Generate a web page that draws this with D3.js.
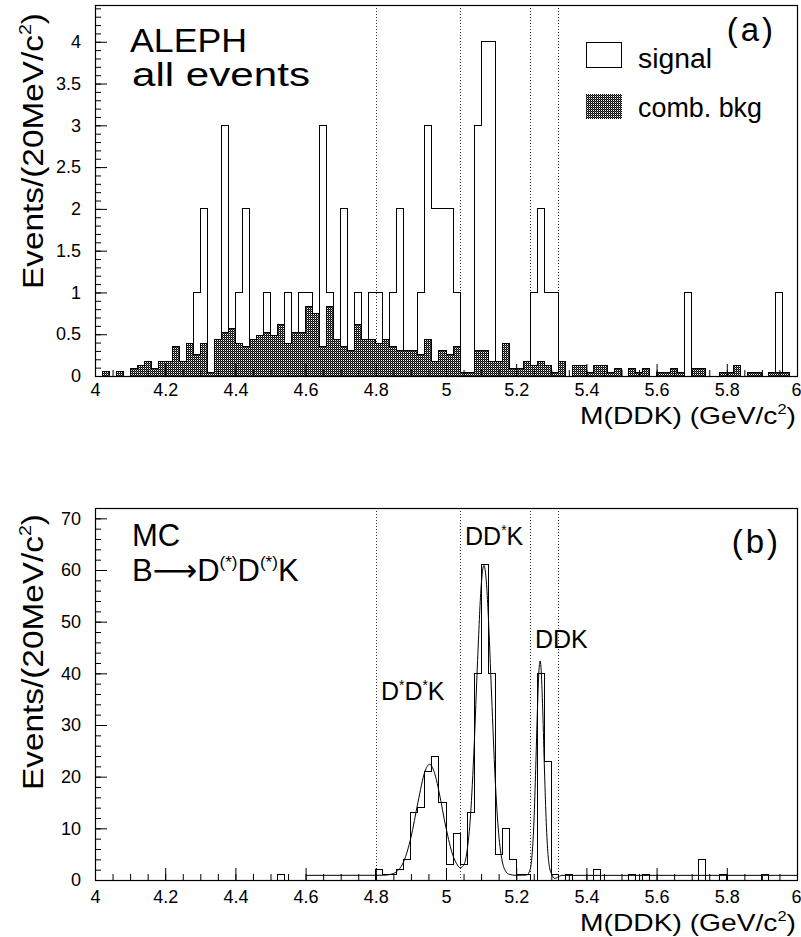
<!DOCTYPE html>
<html>
<head>
<meta charset="utf-8">
<script src="https://cdn.jsdelivr.net/npm/d3@7"></script>
<style>
  body { margin: 0; background: #fff; }
  svg { display: block; font-family: "Liberation Sans", Arial, sans-serif; }
</style>
</head>
<body>
<svg id="chart" width="801" height="937"></svg>
<script>
// 100 bins of 20 MeV between 4.0 and 6.0 GeV/c^2
const binLow = 4.0, binWidth = 0.02;

// (a) ALEPH data, signal histogram (events per bin)
const signalA = [
  0,0,0,0,0, 0,0,0,0,0, 0,0,0,0,1, 2,0,0,3,0,
  1,2,0,0,1, 0,0,1,0,1, 1,0,3,1,0, 2,0,1,0,1,
  1,0,1,2,0, 0,1,3,2,2, 2,1,0,0,3, 4,4,0,0,0,
  0,0,1,2,1, 1,0,0,0,0, 0,0,0,0,0, 0,0,0,0,0,
  0,0,0,0,1, 0,0,0,0,0, 0,0,0,0,0, 0,0,1,0,0
];

// (a) combinatorial background estimate
const bkgA = [
  0,0.05,0,0.05,0, 0.09,0.13,0.17,0.09,0.17, 0.17,0.35,0.17,0.39,0.26, 0.39,0.04,0.44,0.52,0.57,
  0.39,0.35,0.44,0.48,0.52, 0.48,0.62,0.39,0.52,0.52, 0.83,0.75,0.35,0.83,0.44, 0.35,0.30,0.62,0.44,0.44,
  0.39,0.44,0.35,0.30,0.30, 0.30,0.26,0.44,0.17,0.30, 0.26,0.35,0.04,0.04,0.30, 0.30,0.17,0.17,0.39,0.09,
  0.09,0.17,0.13,0.17,0.13, 0.04,0.17,0,0.13,0.13, 0.04,0.13,0.13,0.04,0.09, 0,0.09,0.04,0.09,0,
  0.04,0.04,0.09,0.04,0, 0.09,0.09,0,0,0.04, 0.04,0.13,0,0.04,0.04, 0,0.04,0.04,0.04,0
];

// (b) Monte Carlo B -> D(*)D(*)K
const mcB = [
  0,0,0,0,0, 0,0,0,0,0, 0,0,0,0,0, 0,0,0,0,0,
  0,0,0,0,0, 0,1,0,0,0, 0,0,0,0,0, 0,0,0,0,0,
  2,1,1,2,4, 13,14,21,24,15, 3,9,3,13,40, 61,40,5,10,4,
  1,1,0,40,23, 1,0,1,0,0, 0,2,0,0,0, 0,1,0,1,0,
  0,0,0,0,0, 0,4,0,0,1, 0,0,0,0,0, 1,0,0,0,0
];

// (b) fitted curve
const fitX = [4.60, 4.82, 4.84, 4.86, 4.88, 4.90, 4.92, 4.94, 4.953, 4.97, 4.98, 5.00, 5.02, 5.03, 5.04,
  5.05, 5.06, 5.07, 5.08, 5.09, 5.10, 5.108, 5.115, 5.12, 5.13, 5.14, 5.15, 5.16, 5.17, 5.18, 5.20, 5.23,
  5.24, 5.245, 5.25, 5.255, 5.26, 5.265, 5.268, 5.27, 5.275, 5.28, 5.285, 5.29, 5.295, 5.30, 5.31, 5.32, 5.33, 6.00];
const fitY = [0.9, 0.92, 1.06, 1.66, 3.65, 8.2, 15.0, 21.0, 22.4, 20.1, 17.1, 10.1, 4.7, 3.2, 2.4,
  2.8, 5.6, 12.6, 25.6, 42.5, 56.7, 60.9, 57.7, 51.9, 35.6, 19.7, 9.0, 3.7, 1.7, 1.1, 0.9, 0.96,
  2.1, 4.7, 10.4, 20.2, 31.9, 40.7, 42.4, 41.7, 34.2, 22.5, 12.1, 5.5, 2.4, 1.3, 0.3, 0.6, 0.9, 0.9];

const xTicks = [4, 4.2, 4.4, 4.6, 4.8, 5, 5.2, 5.4, 5.6, 5.8, 6];
const yTicksA = [0, 0.5, 1, 1.5, 2, 2.5, 3, 3.5, 4];
const yTicksB = [0, 10, 20, 30, 40, 50, 60, 70];
const cutLines = [4.8, 5.04, 5.24, 5.32];

const svg = d3.select('#chart');

// crosshatch used for the background histogram
const pat = svg.append('defs').append('pattern')
  .attr('id', 'xhatch')
  .attr('width', 2).attr('height', 2)
  .attr('patternUnits', 'userSpaceOnUse');
pat.append('rect').attr('width', 2).attr('height', 2).attr('fill', '#fff');
pat.append('rect').attr('x', 0).attr('y', 0).attr('width', 1).attr('height', 1).attr('fill', '#000');
pat.append('rect').attr('x', 1).attr('y', 1).attr('width', 1).attr('height', 1).attr('fill', '#000');
pat.append('rect').attr('x', 0).attr('y', 1).attr('width', 1).attr('height', 1).attr('fill', '#555');

const x = d3.scaleLinear().domain([4, 6]).range([95, 797]);
const yA = d3.scaleLinear().domain([0, 4.44]).range([376, 5]);
const yB = d3.scaleLinear().domain([0, 72]).range([880, 508]);

// histogram outline as a step path through the bin edges
function stepPath(vals, y){
  const p = d3.path();
  p.moveTo(x(binLow), y(0));
  vals.forEach(function(v, i){
    p.lineTo(x(binLow + i * binWidth), y(v));
    p.lineTo(x(binLow + (i + 1) * binWidth), y(v));
  });
  p.lineTo(x(binLow + vals.length * binWidth), y(0));
  return p.toString();
}

function cuts(y){
  svg.append('g').selectAll('line')
    .data(cutLines)
    .enter().append('line')
    .attr('x1', d => Math.round(x(d)) + 0.5)
    .attr('x2', d => Math.round(x(d)) + 0.5)
    .attr('y1', y.range()[1])
    .attr('y2', y.range()[0])
    .attr('stroke', '#333')
    .attr('stroke-width', 1)
    .attr('stroke-dasharray', '1,2');
}

function axes(y, yMajor, yMinor, xPad){
  const y0 = y.range()[0];
  const clean = g => {
    g.select('.domain').remove();
    g.selectAll('.tick line').attr('stroke', '#000');
    g.attr('font-size', 18).attr('font-family', '"Liberation Sans", Arial, sans-serif');
  };
  svg.append('g').attr('transform', 'translate(0,' + y0 + ')')
    .call(d3.axisBottom(x).tickValues(d3.range(4, 6.001, 0.05)).tickSize(-6).tickFormat(''))
    .call(clean);
  svg.append('g').attr('transform', 'translate(0,' + y0 + ')')
    .call(d3.axisBottom(x).tickValues(xTicks).tickSize(-12).tickPadding(xPad).tickFormat(d3.format('~g')))
    .call(clean)
    // last label sits on the right edge of the page
    .call(g => g.selectAll('.tick text').filter(d => d === 6).attr('text-anchor', 'end').attr('x', 4));
  svg.append('g').attr('transform', 'translate(' + x.range()[0] + ',0)')
    .call(d3.axisLeft(y).tickValues(yMinor).tickSize(-6).tickFormat(''))
    .call(clean);
  svg.append('g').attr('transform', 'translate(' + x.range()[0] + ',0)')
    .call(d3.axisLeft(y).tickValues(yMajor).tickSize(-12).tickPadding(14).tickFormat(d3.format('~g')))
    .call(clean);
  svg.append('rect')
    .attr('x', x.range()[0] + 0.5).attr('y', y.range()[1] + 0.5)
    .attr('width', x.range()[1] - x.range()[0]).attr('height', y0 - y.range()[1])
    .attr('fill', 'none').attr('stroke', '#000').attr('stroke-width', 1.2);
}

function yTitle(cy){
  const t = svg.append('text')
    .attr('transform', 'translate(43,' + cy + ') rotate(-90)')
    .attr('text-anchor', 'middle')
    .attr('font-size', 29)
    .attr('textLength', 276)
    .attr('lengthAdjust', 'spacingAndGlyphs');
  t.append('tspan').text('Events/(20MeV/c');
  t.append('tspan').attr('font-size', 17).attr('dy', -12).text('2');
  t.append('tspan').attr('dy', 12).text(')');
}

function xTitle(by){
  const t = svg.append('text')
    .attr('x', 796).attr('y', by)
    .attr('text-anchor', 'end')
    .attr('font-size', 24)
    .attr('textLength', 216)
    .attr('lengthAdjust', 'spacingAndGlyphs');
  t.append('tspan').text('M(DDK) (GeV/c');
  t.append('tspan').attr('font-size', 14).attr('dy', -10).text('2');
  t.append('tspan').attr('dy', 10).text(')');
}

// label made of [text, superscript?] pieces
function supLabel(px, py, size, parts){
  const t = svg.append('text').attr('x', px).attr('y', py).attr('font-size', size);
  let up = false;
  parts.forEach(function(p){
    const s = t.append('tspan').text(p[0]);
    if (p[1] && !up){ s.attr('font-size', size * 0.55).attr('dy', -size * 0.42); up = true; }
    else if (!p[1] && up){ s.attr('dy', size * 0.42); up = false; }
    if (p[2]) s.attr('font-family', p[2]);
  });
  return t;
}

// ---------- panel (a) ----------
svg.append('rect').attr('x', 95).attr('y', 5).attr('width', 702).attr('height', 371).attr('fill', '#fff');
cuts(yA);
svg.append('path')
  .attr('d', stepPath(signalA, yA))
  .attr('fill', 'none').attr('stroke', '#000').attr('stroke-width', 1)
  .attr('shape-rendering', 'crispEdges');
svg.append('path')
  .attr('d', stepPath(bkgA, yA))
  .attr('fill', 'url(#xhatch)').attr('stroke', '#000').attr('stroke-width', 1)
  .attr('shape-rendering', 'crispEdges');
axes(yA, yTicksA, d3.range(0, 4.41, 0.1), 7);
yTitle(151);
xTitle(424);

svg.append('text').attr('x', 130).attr('y', 52).attr('font-size', 33)
  .attr('textLength', 117).attr('lengthAdjust', 'spacingAndGlyphs').text('ALEPH');
svg.append('text').attr('x', 132).attr('y', 86).attr('font-size', 33)
  .attr('textLength', 178).attr('lengthAdjust', 'spacingAndGlyphs').text('all events');
svg.append('text').attr('x', 776).attr('y', 41).attr('font-size', 33).attr('text-anchor', 'end')
  .attr('letter-spacing', 3).text('(a)');

// legend
svg.append('rect').attr('x', 586.5).attr('y', 42.5).attr('width', 35).attr('height', 25)
  .attr('fill', '#fff').attr('stroke', '#000').attr('stroke-width', 1);
svg.append('text').attr('x', 638).attr('y', 68).attr('font-size', 27)
  .attr('textLength', 74).attr('lengthAdjust', 'spacingAndGlyphs').text('signal');
svg.append('rect').attr('x', 586).attr('y', 94).attr('width', 36).attr('height', 25)
  .attr('fill', 'url(#xhatch)');
svg.append('text').attr('x', 638).attr('y', 117).attr('font-size', 27)
  .attr('textLength', 124).attr('lengthAdjust', 'spacingAndGlyphs').text('comb. bkg');

// ---------- panel (b) ----------
svg.append('rect').attr('x', 95).attr('y', 508).attr('width', 702).attr('height', 372).attr('fill', '#fff');
cuts(yB);
svg.append('path')
  .attr('d', stepPath(mcB, yB))
  .attr('fill', 'none').attr('stroke', '#000').attr('stroke-width', 1)
  .attr('shape-rendering', 'crispEdges');

const fitLine = d3.line()
  .x(d => x(d[0]))
  .y(d => yB(d[1]))
  .curve(d3.curveMonotoneX);
svg.append('path')
  .attr('d', fitLine(d3.zip(fitX, fitY)))
  .attr('fill', 'none').attr('stroke', '#000').attr('stroke-width', 1);

axes(yB, yTicksB, d3.range(0, 72.1, 2), 10);
yTitle(652);
xTitle(931);

svg.append('text').attr('x', 132).attr('y', 546).attr('font-size', 31).text('MC');
supLabel(132, 581, 31, [['B'], ['\u27F6', false, 'DejaVu Sans'], ['D'], ['(*)', true], ['D'], ['(*)', true], ['K']]);
svg.append('text').attr('x', 781).attr('y', 553).attr('font-size', 33).attr('text-anchor', 'end')
  .attr('letter-spacing', 3).text('(b)');

supLabel(381, 700, 25, [['D'], ['*', true], ['D'], ['*', true], ['K']]);
supLabel(465, 545, 25, [['D'], ['D'], ['*', true], ['K']]);
supLabel(535, 648, 25, [['DDK']]);
</script>
</body>
</html>
